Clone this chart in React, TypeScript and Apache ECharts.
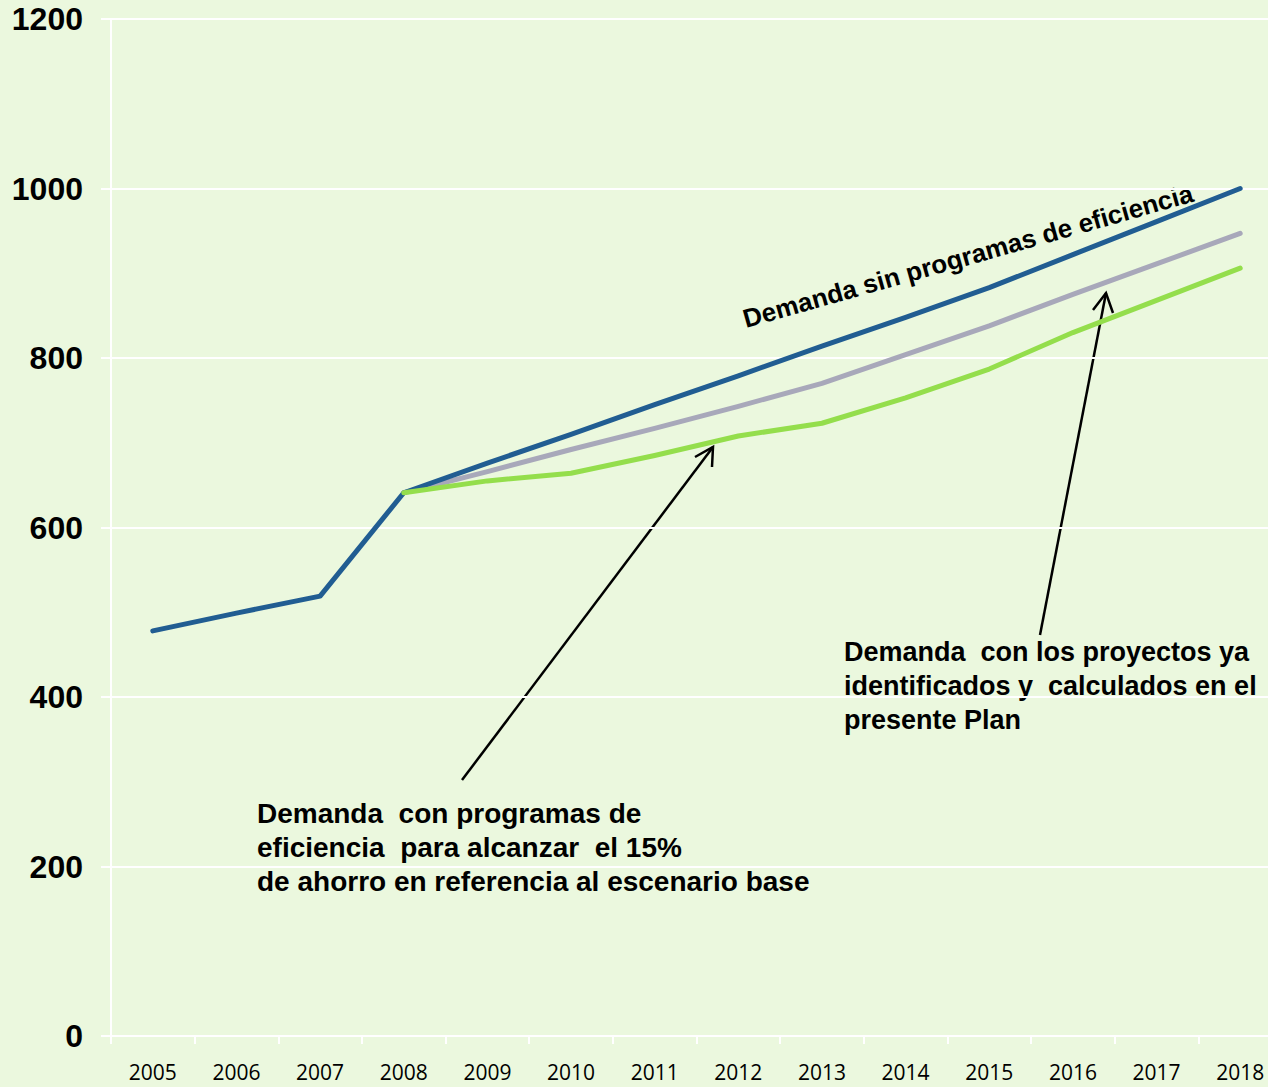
import React, { useEffect, useRef } from "react";
import * as echarts from "echarts";

const years = ["2005","2006","2007","2008","2009","2010","2011","2012","2013","2014","2015","2016","2017","2018"];
const sinProgramas = [478, 499, 519, 641, 676, 710, 745, 779, 814, 848, 883, 922, 961, 1000];
const proyectosIdentificados = [null, null, null, 641, 666, 692, 717, 743, 770, 804, 838, 875, 911, 947];
const ahorro15 = [null, null, null, 641, 655, 664, 685, 708, 723, 753, 787, 830, 868, 906];
const yTicks = { min: 0, max: 1200, interval: 200 };

const textBlock1 = "Demanda  con programas de\neficiencia  para alcanzar  el 15%\nde ahorro en referencia al escenario base";
const textBlock2 = "Demanda  con los proyectos ya\nidentificados y  calculados en el\npresente Plan";
const rotatedLabel = "Demanda sin programas de eficiencia";

export default function App() {
  const ref = useRef<HTMLDivElement>(null);
  useEffect(() => {
    document.body.style.margin = "0";
    document.body.style.overflow = "hidden";
    const chart = echarts.init(ref.current!, null, { renderer: "svg" });
    const fam = "Liberation Sans";
    const txt = (extra: any) => ({ fill: "#000", fontFamily: fam, fontSize: 28, fontWeight: "bold", ...extra });
    const lineStyle = (c: string) => ({ color: c, width: 5, cap: "round" as const, join: "round" as const });
    chart.setOption({
      animation: false,
      backgroundColor: "#ebf8de",
      grid: { left: 111, top: 19, right: 8, bottom: 51, containLabel: false },
      xAxis: {
        type: "category",
        data: years,
        boundaryGap: true,
        axisLine: { lineStyle: { color: "#ffffff", width: 2 } },
        axisTick: { show: true, length: 8, lineStyle: { color: "#ffffff", width: 2 } },
        axisLabel: { color: "#000", fontSize: 21, fontFamily: "Open Sans", margin: 25 },
        splitLine: { show: false },
      },
      yAxis: {
        type: "value",
        min: yTicks.min,
        max: yTicks.max,
        interval: yTicks.interval,
        axisLine: { show: true, lineStyle: { color: "#ffffff", width: 2 } },
        axisTick: { show: true, length: 10, lineStyle: { color: "#ffffff", width: 2 } },
        axisLabel: { color: "#000", fontSize: 32, fontWeight: "bold", fontFamily: fam, margin: 28, formatter: (v: number) => String(v) },
        splitLine: { show: true, lineStyle: { color: "#ffffff", width: 2 } },
      },
      series: [
        { type: "line", data: sinProgramas, showSymbol: false, lineStyle: lineStyle("#215d92"), z: 3 },
        { type: "line", data: proyectosIdentificados, showSymbol: false, lineStyle: lineStyle("#a8a8ba"), z: 2 },
        { type: "line", data: ahorro15, showSymbol: false, lineStyle: lineStyle("#94de4c"), z: 4 },
      ],
      graphic: [
        {
          type: "text", x: 968, y: 256, rotation: 15.8 * Math.PI / 180,
          style: txt({ text: rotatedLabel, fontSize: 26, align: "center", verticalAlign: "middle" }),
        },
        {
          type: "text", x: 257, y: 796,
          style: txt({ text: textBlock1, lineHeight: 34, align: "left", verticalAlign: "top" }),
        },
        {
          type: "text", x: 844, y: 635,
          style: txt({ text: textBlock2, fontSize: 27, lineHeight: 34, align: "left", verticalAlign: "top" }),
        },
        { type: "line", shape: { x1: 462, y1: 780, x2: 713, y2: 447 }, style: { stroke: "#000", lineWidth: 2.5 } },
        { type: "polyline", shape: { points: [[695, 457], [713, 447], [712, 467]] }, style: { stroke: "#000", lineWidth: 2.5, fill: null } },
        { type: "line", shape: { x1: 1040, y1: 635, x2: 1106, y2: 293 }, style: { stroke: "#000", lineWidth: 2.5 } },
        { type: "polyline", shape: { points: [[1093, 310], [1106, 293], [1113, 313]] }, style: { stroke: "#000", lineWidth: 2.5, fill: null } },
      ],
    });
    return () => chart.dispose();
  }, []);
  return <div ref={ref} style={{ width: 1290, height: 1087 }} />;
}
